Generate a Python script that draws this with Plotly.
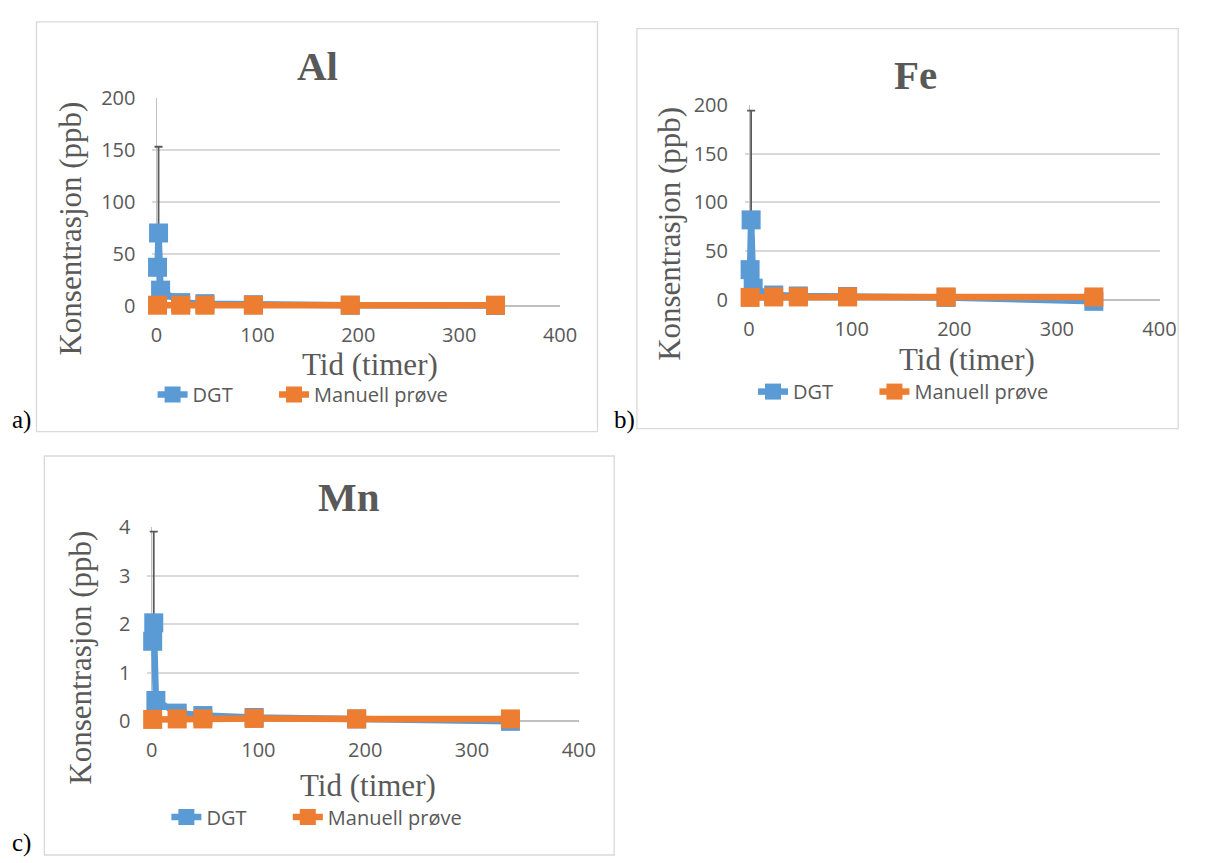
import plotly.graph_objects as go

W, H = 1209, 863

# ---------------- data ----------------
dgt_time = [1, 2, 4, 24, 48, 96, 192, 336]
man_time = [1, 24, 48, 96, 192, 336]

al_dgt = [37, 70, 15, 3, 2, 1, 0.5, 0.3]
al_man = [0.5, 0.5, 0.5, 0.5, 0.5, 0.5]
al_err = [None, 83, None, None, None, None, None, None]

fe_dgt = [31, 82, 12, 5, 4, 3.5, 2.5, -1.5]
fe_man = [2.5, 3, 3, 3, 3, 3]
fe_err = [None, 112, None, None, None, None, None, None]

mn_dgt = [1.65, 2.03, 0.43, 0.17, 0.12, 0.08, 0.05, 0.0]
mn_man = [0.04, 0.05, 0.05, 0.06, 0.05, 0.05]
mn_err = [None, 1.88, None, None, None, None, None, None]

series_names = ["DGT", "Manuell prøve"]
x_ticks = [0, 100, 200, 300, 400]
y_ticks_big = [0, 50, 100, 150, 200]
y_ticks_mn = [0, 1, 2, 3, 4]

BLUE = "#5B9BD5"
ORANGE = "#ED7D31"
GRAY_TXT = "#595959"
GRID = "#D9D9D9"
TICKFONT = dict(family="Open Sans", size=20, color=GRAY_TXT)
SERIF = "Liberation Serif"
NBSP = "\u00a0"


def px_x(p):
    return p / W


def px_y(p):
    return 1 - p / H


fig = go.Figure()

panels = [
    ("Al", al_dgt, al_man, al_err, "x", "y", "legend"),
    ("Fe", fe_dgt, fe_man, fe_err, "x2", "y2", "legend2"),
    ("Mn", mn_dgt, mn_man, mn_err, "x3", "y3", "legend3"),
]

for name, dgt, man, err, xa, ya, lg in panels:
    arrm = [0 if e is not None else None for e in err]
    fig.add_trace(go.Scatter(
        x=dgt_time, y=dgt, mode="lines+markers", name=series_names[0] + NBSP * 7,
        line=dict(color=BLUE, width=6.5),
        marker=dict(symbol="square", size=19, color=BLUE),
        error_y=dict(type="data", symmetric=False, array=err, arrayminus=arrm,
                     color=GRAY_TXT, thickness=1.8, width=4),
        cliponaxis=False, xaxis=xa, yaxis=ya, legend=lg,
    ))
    fig.add_trace(go.Scatter(
        x=man_time, y=man, mode="lines+markers", name=series_names[1],
        line=dict(color=ORANGE, width=6.5),
        marker=dict(symbol="square", size=19, color=ORANGE),
        cliponaxis=False, xaxis=xa, yaxis=ya, legend=lg,
    ))

geo = {
    "Al": (157, 567, 299, 86, 200, -6),
    "Fe": (759, 1176, 293, 93, 200, -6),
    "Mn": (152, 586, 725, 526, 4, -0.12),
}

axes = {"Al": ("xaxis", "yaxis", "y", "x"), "Fe": ("xaxis2", "yaxis2", "y2", "x2"),
        "Mn": ("xaxis3", "yaxis3", "y3", "x3")}

layout_axes = {}
for name in ["Al", "Fe", "Mn"]:
    x0, x4, y0, yt, ytv, ymin = geo[name]
    ppu_x = (x4 - x0) / 400.0
    xmin = -4
    left = x0 + xmin * ppu_x
    ppu_y = (y0 - yt) / ytv
    bottom = y0 - ymin * ppu_y
    xk, yk, yanc, xanc = axes[name]
    yt_vals = y_ticks_mn if name == "Mn" else y_ticks_big
    layout_axes[xk] = dict(
        domain=[px_x(left), px_x(x4)], range=[xmin, 400], anchor=yanc,
        tickvals=x_ticks, showgrid=False, zeroline=True, zerolinecolor="#BFBFBF",
        zerolinewidth=1.2, showline=False, ticks="", tickfont=TICKFONT,
        ticklabelstandoff=9,
    )
    layout_axes[yk] = dict(
        domain=[px_y(bottom), px_y(yt)], range=[ymin, ytv], anchor=xanc,
        tickvals=yt_vals, showgrid=True, gridcolor=GRID, gridwidth=1.5,
        zeroline=True, zerolinecolor="#BFBFBF", zerolinewidth=1.5,
        showline=False, ticks="", tickfont=TICKFONT, ticklabelstandoff=16,
    )

boxes = [(35, 8, 605, 428), (645, 15, 1195, 425), (43, 453, 622, 862)]
shapes = []
for (l, t, r, b) in boxes:
    shapes.append(dict(type="rect", xref="paper", yref="paper",
                       x0=px_x(l), x1=px_x(r), y0=px_y(b), y1=px_y(t),
                       line=dict(color=GRID, width=1.3), layer="below"))

annotations = []


def ann(text, x, y, size, family=SERIF, color=GRAY_TXT, bold=False, angle=0):
    if bold:
        text = "<b>" + text + "</b>"
    annotations.append(dict(text=text, x=px_x(x), y=px_y(y), xref="paper", yref="paper",
                            showarrow=False, xanchor="center", yanchor="middle",
                            textangle=angle,
                            font=dict(family=family, size=size, color=color)))


ann("Al", 321, 53, 41, bold=True)
ann("Fe", 928, 63, 41, bold=True)
ann("Mn", 353, 495, 41, bold=True)
ann("Tid (timer)", 374, 359, 31)
ann("Tid (timer)", 980, 354, 31)
ann("Tid (timer)", 372, 791, 31)
ann("Konsentrasjon (ppb)", 70, 220, 31, angle=-90)
ann("Konsentrasjon (ppb)", 678, 225, 31, angle=-90)
ann("Konsentrasjon (ppb)", 80, 660, 31, angle=-90)
ann("a)", 20, 416, 25, color="black")
ann("b)", 632, 416, 25, color="black")
ann("c)", 20, 850, 25, color="black")

leg_common = dict(orientation="h", xanchor="left", yanchor="middle",
                  font=dict(family="Open Sans", size=20, color=GRAY_TXT),
                  bgcolor="rgba(0,0,0,0)", borderwidth=0, tracegroupgap=0)

fig.update_layout(
    width=W, height=H, margin=dict(l=0, r=0, t=0, b=0),
    paper_bgcolor="white", plot_bgcolor="white",
    showlegend=True,
    legend=dict(x=px_x(153), y=px_y(390), **leg_common),
    legend2=dict(x=px_x(763), y=px_y(387), **leg_common),
    legend3=dict(x=px_x(167), y=px_y(823), **leg_common),
    shapes=shapes, annotations=annotations,
    **layout_axes,
)

fig.write_html("out.html")
